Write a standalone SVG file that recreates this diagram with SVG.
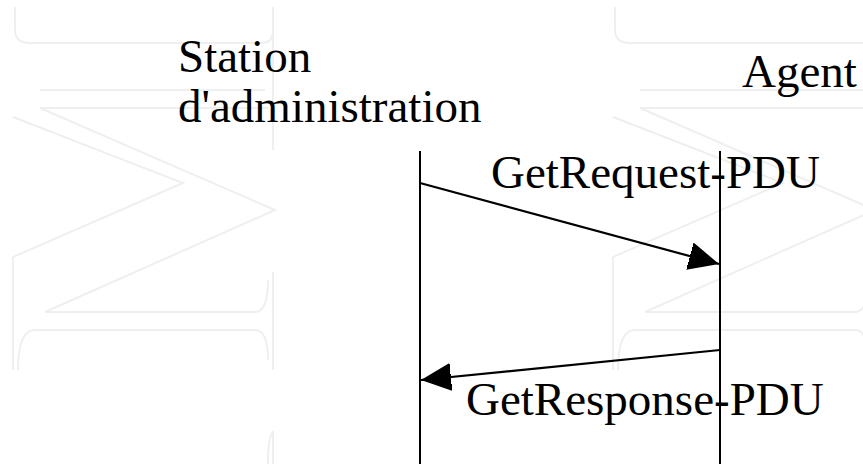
<svg xmlns="http://www.w3.org/2000/svg" xmlns:xlink="http://www.w3.org/1999/xlink" width="863" height="464" viewBox="0 0 863 464">
<style>
.lbl{font-family:"Liberation Serif","Times New Roman",serif;font-size:47px;fill:#000}
.life{stroke:#000;stroke-width:2;fill:none}
.msg{stroke:#000;stroke-width:2.2;fill:none;marker-end:url(#head)}
.wm{stroke:#efefef;stroke-width:2;fill:none}
</style>
<defs>
<marker id="head" viewBox="0 0 30 28" refX="30" refY="14" markerWidth="30" markerHeight="28" markerUnits="userSpaceOnUse" orient="auto">
<path d="M0,0 L30,14 L0,28 Q-3,14 0,0 Z" fill="#000"/>
</marker>
<g id="logo">
<path d="M15,7 V30 Q15,43 30,43 H262 Q273,43 273,30"/>
<path d="M273,7 V150"/>
<path d="M40,90 H265"/>
<path d="M40,108 H268"/>
<path d="M40,108 L275,210 L45,312"/>
<path d="M13,117 L183,183 L13,257"/>
<path d="M45,312 H255 Q268,312 268,280"/>
<path d="M273,272 V370"/>
<path d="M13,257 V370"/>
<path d="M18,370 Q18,330 35,330 H255 Q268,330 268,360"/>
<path d="M268,464 Q268,436 273,432 V464"/>
</g>
</defs>
<g id="watermark" class="wm">
<use xlink:href="#logo"/>
<use xlink:href="#logo" transform="translate(600,0)"/>
</g>
<g id="station">
<text class="lbl" font-family="Liberation Serif, serif" x="178" y="72">Station</text>
<text class="lbl" font-family="Liberation Serif, serif" x="178" y="122">d'administration</text>
<line class="life" x1="420" y1="151" x2="420" y2="464"/>
</g>
<g id="agent">
<text class="lbl" font-family="Liberation Serif, serif" x="742" y="87">Agent</text>
<line class="life" x1="720" y1="151" x2="720" y2="464"/>
</g>
<g id="connectors">
<line class="msg" x1="420" y1="183" x2="719" y2="264"/>
<text class="lbl" font-family="Liberation Serif, serif" x="491" y="188">GetRequest-PDU</text>
<line class="msg" x1="720" y1="350" x2="421" y2="380"/>
<text class="lbl" font-family="Liberation Serif, serif" x="466" y="415">GetResponse-PDU</text>
</g>
</svg>
